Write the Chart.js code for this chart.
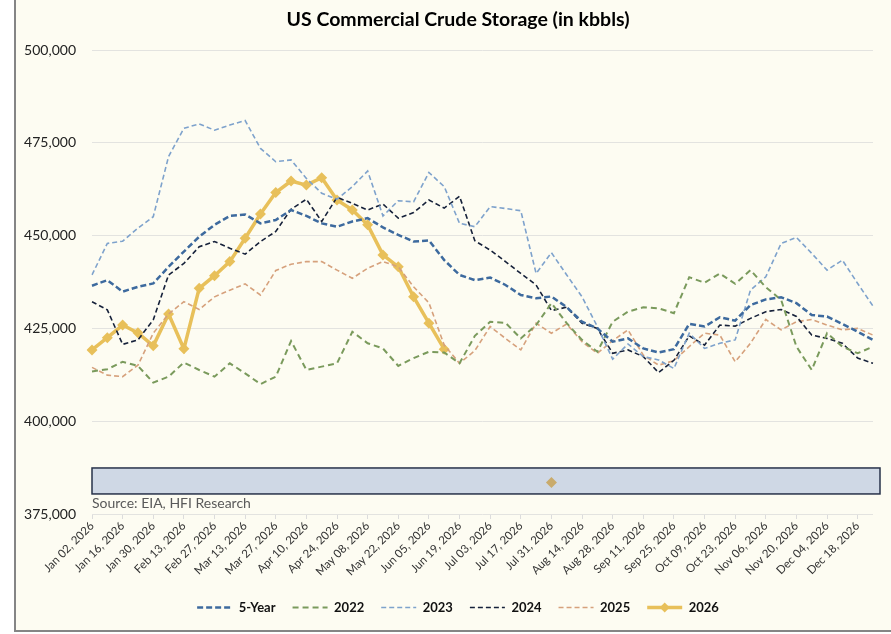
<!DOCTYPE html>
<html>
<head>
<meta charset="utf-8">
<title>US Commercial Crude Storage</title>
<script src="https://cdn.jsdelivr.net/npm/chart.js@4.4.1/dist/chart.umd.min.js"></script>
<style>
  html, body { margin: 0; padding: 0; background: #ffffff; overflow: hidden; }
  #wrap { width: 891px; height: 634px; position: relative; overflow: hidden; }
  canvas { display: block; }
</style>
</head>
<body>
<div id="wrap"><canvas id="storageChart" width="900" height="634"></canvas></div>
<script>
// weekly dates (x categories)
const weeks = [
  'Jan 02, 2026', 'Jan 09, 2026', 'Jan 16, 2026', 'Jan 23, 2026', 'Jan 30, 2026',
  'Feb 06, 2026', 'Feb 13, 2026', 'Feb 20, 2026', 'Feb 27, 2026', 'Mar 06, 2026',
  'Mar 13, 2026', 'Mar 20, 2026', 'Mar 27, 2026', 'Apr 03, 2026', 'Apr 10, 2026',
  'Apr 17, 2026', 'Apr 24, 2026', 'May 01, 2026', 'May 08, 2026', 'May 15, 2026',
  'May 22, 2026', 'May 29, 2026', 'Jun 05, 2026', 'Jun 12, 2026', 'Jun 19, 2026',
  'Jun 26, 2026', 'Jul 03, 2026', 'Jul 10, 2026', 'Jul 17, 2026', 'Jul 24, 2026',
  'Jul 31, 2026', 'Aug 07, 2026', 'Aug 14, 2026', 'Aug 21, 2026', 'Aug 28, 2026',
  'Sep 04, 2026', 'Sep 11, 2026', 'Sep 18, 2026', 'Sep 25, 2026', 'Oct 02, 2026',
  'Oct 09, 2026', 'Oct 16, 2026', 'Oct 23, 2026', 'Oct 30, 2026', 'Nov 06, 2026',
  'Nov 13, 2026', 'Nov 20, 2026', 'Nov 27, 2026', 'Dec 04, 2026', 'Dec 11, 2026',
  'Dec 18, 2026', 'Dec 25, 2026'
];

// y axis ticks
const yTicks = [375000, 400000, 425000, 450000, 475000, 500000];

// series values (kbbls)
const fiveYear = [
  436500, 438000, 434900, 436200, 437100, 441600, 445700, 449700, 452900, 455300,
  455700, 453300, 454200, 456900, 455300, 453300, 452400, 453800, 454700, 452200,
  450200, 448400, 448700, 443400, 439400, 438000, 438700, 436700, 434000, 433100,
  433600, 430700, 426800, 425000, 421400, 422300, 419600, 418500, 419400, 426200,
  425500, 428000, 427100, 431300, 432800, 433400, 431800, 428600, 428200, 426200,
  424100, 421900
];
const y2022 = [
  413400, 414000, 416000, 414900, 410400, 412000, 415800, 413800, 412000, 415600,
  412900, 410000, 412000, 421600, 413800, 414700, 415600, 424100, 421000, 419600,
  414900, 417000, 418700, 418500, 415600, 423000, 426800, 426500, 422300, 425900,
  431800, 426400, 421900, 418700, 426800, 429500, 430700, 430400, 429100, 438800,
  437300, 439800, 437000, 440700, 436100, 432700, 420100, 413800, 423700, 420100,
  418300, 420100
];
const y2023 = [
  439400, 447900, 448500, 452000, 455100, 471300, 478900, 480100, 478400, 479800,
  481000, 473500, 469900, 470400, 465400, 461400, 459800, 463200, 467400, 455300,
  459400, 459100, 467000, 463200, 453300, 452400, 457800, 457300, 456700, 439800,
  445400, 439400, 433500, 425500, 416700, 420800, 417400, 416500, 414200, 423700,
  419600, 421000, 421900, 435300, 438900, 447900, 449500, 445200, 440700, 443400,
  437100, 431000
];
const y2024 = [
  432200, 430000, 420700, 421900, 427300, 439400, 442500, 447000, 448400, 446600,
  445000, 448400, 451100, 457100, 459800, 453800, 460300, 458700, 456900, 458500,
  454700, 456200, 459600, 457400, 460600, 448600, 446100, 443000, 439800, 436700,
  429800, 430700, 426400, 425000, 418300, 419200, 417400, 413100, 416400, 423000,
  420500, 425900, 425600, 427700, 429500, 430100, 428200, 423200, 422300, 421000,
  417000, 415600
];
const y2025 = [
  414500, 412400, 412000, 415100, 423700, 428900, 432200, 430100, 433500, 435300,
  437000, 434000, 440600, 442300, 443000, 443000, 440700, 438500, 441200, 443000,
  441600, 436200, 431900, 420500, 415600, 419000, 425500, 422300, 419200, 426400,
  423700, 426200, 421400, 418300, 421700, 424600, 417800, 415100, 416300, 420100,
  423700, 423200, 416000, 421000, 427400, 424600, 426800, 427400, 425900, 424600,
  425000, 423200
];
const y2026 = [
  419200, 422500, 425900, 423800, 420300, 428900, 419500, 435800, 439200, 443000,
  449300, 455800, 461600, 464700, 463600, 465600, 459600, 456900, 452900, 444800,
  441600, 433500, 426400, 419400
];
// stray 2026 marker sitting in the box (Jul 31)
const y2026Marker = weeks.map((w, i) => (i === 30 ? 383500 : null));

const CREAM = '#fdfcf2';
const GOLD = '#e8c05a';

// frame, background, source box and text
const framePlugin = {
  id: 'frame',
  beforeDraw(chart) {
    const c = chart.ctx;
    c.save();
    c.fillStyle = '#ffffff';
    c.fillRect(0, 0, chart.width, chart.height);
    c.fillStyle = CREAM;
    c.fillRect(16, 0, chart.width - 16, 630);
    c.fillStyle = '#858585';
    c.fillRect(14, 0, 2, 632);
    c.fillRect(14, 630, chart.width - 14, 2);
    c.restore();
  },
  beforeDatasetsDraw(chart) {
    const c = chart.ctx;
    const y = chart.scales.y;
    const a = chart.chartArea;
    const top = y.getPixelForValue(387400);
    const bot = y.getPixelForValue(380400);
    c.save();
    c.fillStyle = '#cfd8e5';
    c.strokeStyle = '#27324a';
    c.lineWidth = 1.5;
    c.fillRect(a.left, top, a.right + 7 - a.left, bot - top);
    c.strokeRect(a.left, top, a.right + 7 - a.left, bot - top);
    c.fillStyle = '#595959';
    c.font = '14px Lato';
    c.textBaseline = 'middle';
    c.fillText('Source: EIA, HFI Research', a.left, bot + 10);
    c.restore();
  },
  afterDraw(chart) {
    // diamond on the 2026 legend line
    const lg = chart.legend;
    const idx = lg.legendItems.findIndex(it => it.text === '2026');
    if (idx < 0) return;
    const hb = lg.legendHitBoxes[idx];
    const cx = hb.left + 35 / 2;
    const cy = hb.top + hb.height / 2;
    const c = chart.ctx;
    c.save();
    c.fillStyle = GOLD;
    c.beginPath();
    c.moveTo(cx, cy - 5);
    c.lineTo(cx + 5, cy);
    c.lineTo(cx, cy + 5);
    c.lineTo(cx - 5, cy);
    c.closePath();
    c.fill();
    c.restore();
  }
};

const ctx = document.getElementById('storageChart').getContext('2d');
const storageChart = new Chart(ctx, {
  type: 'line',
  plugins: [framePlugin],
  data: {
    labels: weeks,
    datasets: [
      { label: '5-Year', data: fiveYear, borderColor: '#3d6a9e', borderWidth: 2.5, borderDash: [6, 3], pointRadius: 0 },
      { label: '2022', data: y2022, borderColor: '#7a9a5c', borderWidth: 2, borderDash: [6, 4], pointRadius: 0 },
      { label: '2023', data: y2023, borderColor: '#7ea2cc', borderWidth: 1.6, borderDash: [5, 3], pointRadius: 0 },
      { label: '2024', data: y2024, borderColor: '#16213a', borderWidth: 1.6, borderDash: [5, 3], pointRadius: 0 },
      { label: '2025', data: y2025, borderColor: '#d6a17c', borderWidth: 1.6, borderDash: [5, 3], pointRadius: 0 },
      { label: '2026', data: y2026, borderColor: GOLD, backgroundColor: GOLD, borderWidth: 3.5,
        pointStyle: 'rectRot', pointRadius: 5.5, pointBorderWidth: 0 },
      { label: '', data: y2026Marker, borderColor: '#c9ab6c', backgroundColor: '#c9ab6c', showLine: false,
        pointStyle: 'rectRot', pointRadius: 5.5, pointBorderWidth: 0 }
    ]
  },
  options: {
    responsive: false,
    animation: false,
    devicePixelRatio: 1,
    layout: { padding: { left: 16, right: 0, top: 0, bottom: 10 } },
    elements: { line: { tension: 0 } },
    plugins: {
      tooltip: { enabled: false },
      title: {
        display: true,
        text: 'US Commercial Crude Storage (in kbbls)',
        color: '#000000',
        font: { family: 'Lato', size: 19.5, weight: 'bold' },
        padding: { top: 8, bottom: 18.6 }
      },
      legend: {
        position: 'bottom',
        labels: {
          color: '#111111',
          font: { family: 'Lato', size: 13, weight: 'bold' },
          usePointStyle: true,
          pointStyle: 'line',
          pointStyleWidth: 35,
          padding: 17,
          filter: item => item.text !== '',
          generateLabels: chart => {
            const items = Chart.defaults.plugins.legend.labels.generateLabels(chart);
            items.forEach(it => {
              const ds = chart.data.datasets[it.datasetIndex];
              it.lineDash = ds.borderDash || [];
              it.lineWidth = ds.borderWidth;
              it.strokeStyle = ds.borderColor;
            });
            return items;
          }
        }
      }
    },
    scales: {
      x: {
        grid: {
          drawOnChartArea: false,
          drawTicks: true,
          tickLength: 5,
          color: ctx => (ctx.index % 2 === 0 ? '#dcdcdc' : 'rgba(0,0,0,0)')
        },
        border: { display: false },
        ticks: {
          autoSkip: false,
          minRotation: 45,
          maxRotation: 45,
          padding: 0,
          color: '#333333',
          font: { family: 'Lato', size: 11.5 },
          callback: function (v, i) { return i % 2 === 0 ? this.getLabelForValue(v) : ''; }
        },
        afterFit: s => { s.height = 70; }
      },
      y: {
        min: 375000,
        max: 500000,
        afterBuildTicks: s => { s.ticks = yTicks.map(v => ({ value: v })); },
        grid: { color: '#e3e3e0', drawTicks: false },
        border: { display: false },
        ticks: {
          padding: 16,
          color: '#222222',
          font: { family: 'Lato', size: 14 },
          callback: v => v.toLocaleString('en-US')
        },
        afterFit: s => { s.width = 76; }
      },
      // empty right-hand strip so the title and legend centre on the whole frame
      yPad: {
        position: 'right',
        min: 375000,
        max: 500000,
        grid: { display: false },
        border: { display: false },
        ticks: { display: false },
        afterFit: s => { s.width = 27; }
      }
    }
  }
});
</script>
</body>
</html>
